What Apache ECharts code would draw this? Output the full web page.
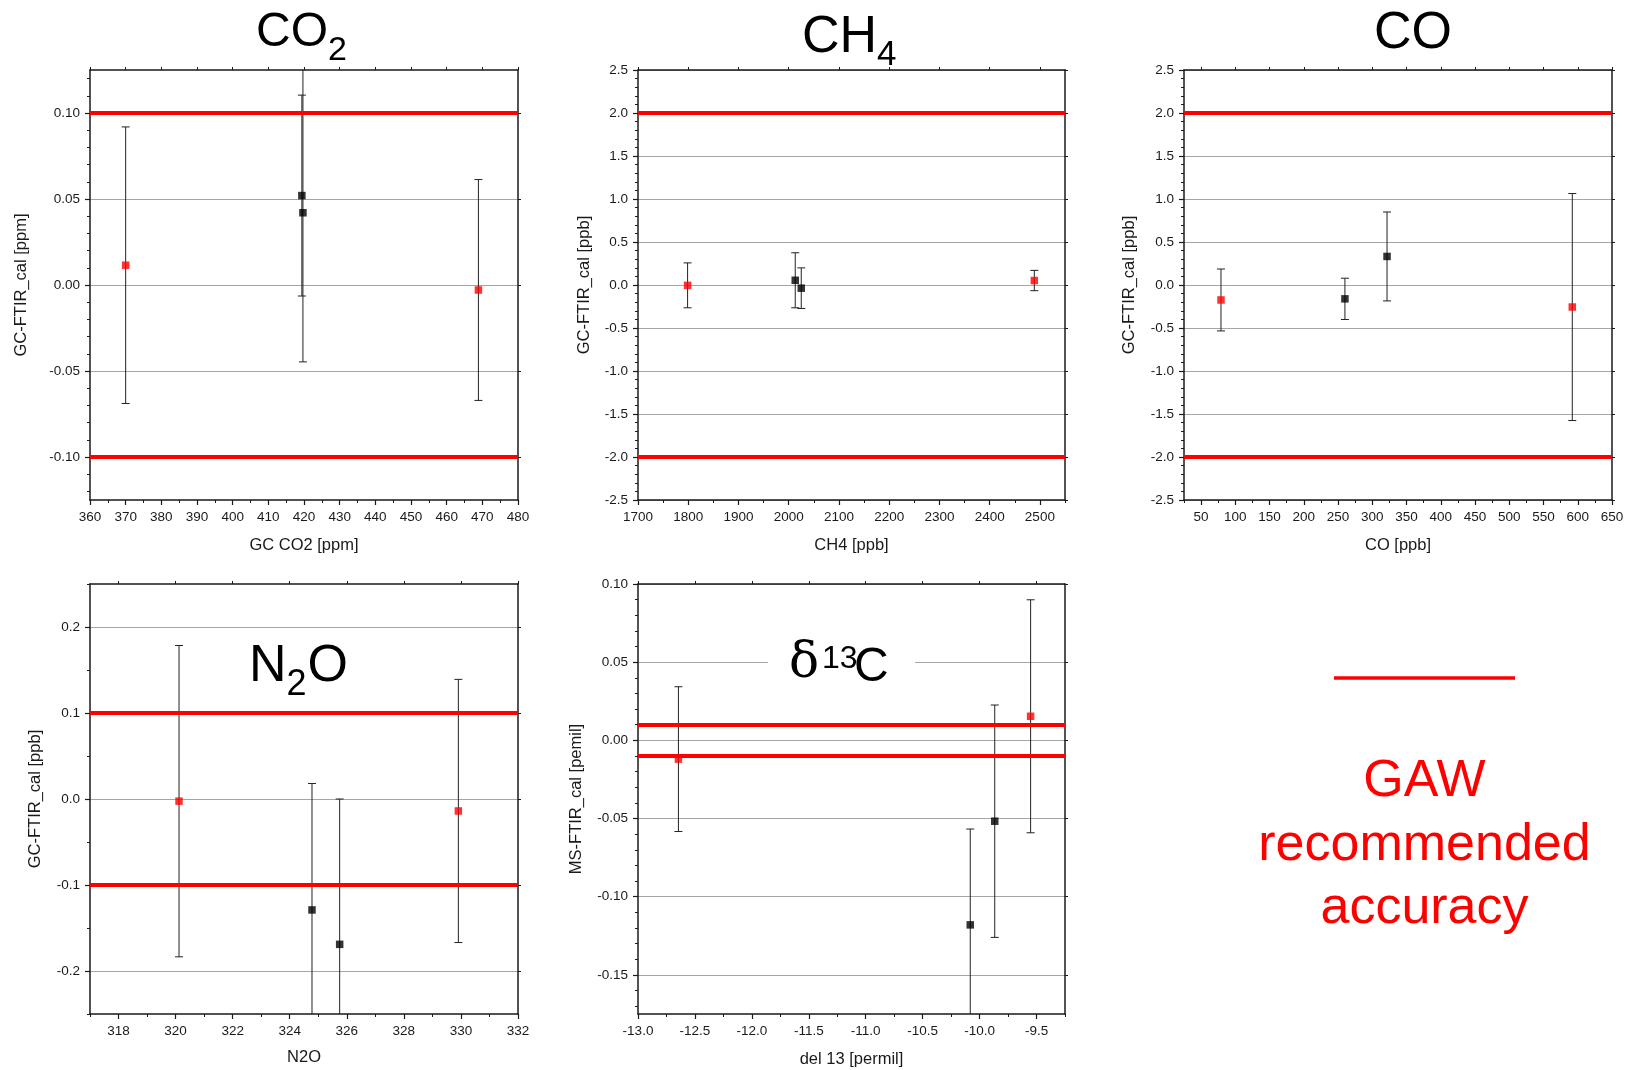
<!DOCTYPE html>
<html>
<head>
<meta charset="utf-8">
<script src="https://cdn.jsdelivr.net/npm/echarts@6.0.0/dist/echarts.min.js"></script>
<style>
html,body{margin:0;padding:0;background:#ffffff;}
#chart{width:1625px;height:1070px;}
</style>
</head>
<body>
<div id="chart"></div>
<script>
// ===================== DATA =====================
// each point: [x, difference, half error bar]
const co2Reference = [[370.0, 0.0115, 0.0804], [468.9, -0.0029, 0.0642]];
const co2Samples   = [[419.4, 0.052, 0.0584], [419.7, 0.042, 0.0867]];
const ch4Reference = [[1798.7, -0.004, 0.261], [2488.9, 0.052, 0.118]];
const ch4Samples   = [[2013, 0.055, 0.320], [2025, -0.037, 0.236]];
const coReference  = [[79, -0.174, 0.36], [592, -0.256, 1.32]];
const coSamples    = [[260, -0.161, 0.24], [321.5, 0.332, 0.517]];
const n2oReference = [[320.12, -0.0025, 0.181], [329.91, -0.0139, 0.153]];
const n2oSamples   = [[324.78, -0.129, 0.147], [325.75, -0.169, 0.169]];
const d13cReference = [[-12.645, -0.012, 0.0463], [-9.552, 0.0154, 0.0745]];
const d13cSamples   = [[-10.082, -0.118, 0.0613], [-9.867, -0.0517, 0.0743]];

// GAW recommended accuracy (+/-)
const co2Limit = 0.1;
const ch4Limit = 2.0;
const coLimit = 2.0;
const n2oLimit = 0.1;
const d13cLimit = 0.01;

// tick labels
const co2XTicks = [360, 370, 380, 390, 400, 410, 420, 430, 440, 450, 460, 470, 480];
const co2YTicks = [-0.10, -0.05, 0.00, 0.05, 0.10];
const ch4XTicks = [1700, 1800, 1900, 2000, 2100, 2200, 2300, 2400, 2500];
const ch4YTicks = [-2.5, -2.0, -1.5, -1.0, -0.5, 0.0, 0.5, 1.0, 1.5, 2.0, 2.5];
const coXTicks  = [50, 100, 150, 200, 250, 300, 350, 400, 450, 500, 550, 600, 650];
const coYTicks  = [-2.5, -2.0, -1.5, -1.0, -0.5, 0.0, 0.5, 1.0, 1.5, 2.0, 2.5];
const n2oXTicks = [318, 320, 322, 324, 326, 328, 330, 332];
const n2oYTicks = [-0.2, -0.1, 0.0, 0.1, 0.2];
const d13cXTicks = [-13.0, -12.5, -12.0, -11.5, -11.0, -10.5, -10.0, -9.5];
const d13cYTicks = [-0.15, -0.10, -0.05, 0.00, 0.05, 0.10];

// texts
const xNames = ['GC CO2 [ppm]', 'CH4 [ppb]', 'CO [ppb]', 'N2O', 'del 13 [permil]'];
const yNames = ['GC-FTIR_cal [ppm]', 'GC-FTIR_cal [ppb]', 'GC-FTIR_cal [ppb]', 'GC-FTIR_cal [ppb]', 'MS-FTIR_cal [pemil]'];
const legendLines = ['GAW', 'recommended', 'accuracy'];

// ===================== STYLE / LAYOUT =====================
const FONT = '"Liberation Sans", Arial, Helvetica, sans-serif';
const SERIF = '"DejaVu Serif", "Liberation Serif", "Times New Roman", serif';
const TXT = '#1a1a1a';
const AX = '#1a1a1a';
const GRIDC = '#a6a6a6';
const RED = '#ff0000';

function minorTicks(min, max, step) {
  const out = [];
  const start = Math.ceil(min / step - 1e-9);
  const end = Math.floor(max / step + 1e-9);
  for (let k = start; k <= end; k++) out.push(Math.round(k * step * 1e6) / 1e6);
  return out;
}

const panels = [
  {grid: {left: 90, top: 70, width: 428, height: 430}, xMin: 360, xMax: 480, xTicks: co2XTicks, xMinor: 5, xDec: 0,
   yMin: -0.125, yMax: 0.125, yTicks: co2YTicks, yMinor: 0.01, yDec: 2, xGap: 37, yGap: 60,
   limit: co2Limit, ref: co2Reference, smp: co2Samples},
  {grid: {left: 638, top: 70, width: 427, height: 430}, xMin: 1700, xMax: 2550, xTicks: ch4XTicks, xMinor: 50, xDec: 0,
   yMin: -2.5, yMax: 2.5, yTicks: ch4YTicks, yMinor: 0.1, yDec: 1, xGap: 37, yGap: 45,
   limit: ch4Limit, ref: ch4Reference, smp: ch4Samples},
  {grid: {left: 1184, top: 70, width: 428, height: 430}, xMin: 25, xMax: 650, xTicks: coXTicks, xMinor: 25, xDec: 0,
   yMin: -2.5, yMax: 2.5, yTicks: coYTicks, yMinor: 0.1, yDec: 1, xGap: 37, yGap: 46,
   limit: coLimit, ref: coReference, smp: coSamples},
  {grid: {left: 90, top: 584, width: 428, height: 430}, xMin: 317, xMax: 332, xTicks: n2oXTicks, xMinor: 1, xDec: 0,
   yMin: -0.25, yMax: 0.25, yTicks: n2oYTicks, yMinor: 0.05, yDec: 1, xGap: 35, yGap: 46,
   limit: n2oLimit, ref: n2oReference, smp: n2oSamples},
  {grid: {left: 638, top: 584, width: 427, height: 430}, xMin: -13, xMax: -9.25, xTicks: d13cXTicks, xMinor: 0.25, xDec: 1,
   yMin: -0.175, yMax: 0.10, yTicks: d13cYTicks, yMinor: 0.01, yDec: 2, xGap: 37, yGap: 53,
   limit: d13cLimit, ref: d13cReference, smp: d13cSamples}
];

const grids = [], xAxes = [], yAxes = [], series = [];

panels.forEach(function (p, i) {
  grids.push(Object.assign({containLabel: false, outerBoundsMode: 'none'}, p.grid));
  const lineStyle = {color: AX, width: 1.5};
  const xi = xAxes.length;
  xAxes.push({
    gridIndex: i, type: 'value', position: 'bottom', min: p.xMin, max: p.xMax,
    name: xNames[i], nameLocation: 'middle', nameGap: p.xGap,
    nameTextStyle: {fontSize: 16.5, color: TXT, fontFamily: FONT},
    axisLine: {show: true, onZero: false, lineStyle: lineStyle},
    axisTick: {show: true, inside: false, length: 5, customValues: p.xTicks, lineStyle: {color: AX, width: 1.2}},
    axisLabel: {show: true, customValues: p.xTicks, margin: 10, fontSize: 13.5, color: TXT, fontFamily: FONT,
      formatter: function (v) { return (+v).toFixed(p.xDec); }},
    splitLine: {show: false}
  });
  xAxes.push({
    gridIndex: i, type: 'value', position: 'bottom', min: p.xMin, max: p.xMax,
    axisLine: {show: false, onZero: false},
    axisTick: {show: true, inside: false, length: 3, customValues: minorTicks(p.xMin, p.xMax, p.xMinor), lineStyle: {color: AX, width: 1}},
    axisLabel: {show: false}, splitLine: {show: false}
  });
  xAxes.push({
    gridIndex: i, type: 'value', position: 'top', min: p.xMin, max: p.xMax,
    axisLine: {show: true, onZero: false, lineStyle: lineStyle},
    axisTick: {show: true, inside: false, length: 3, customValues: p.xTicks, lineStyle: {color: AX, width: 1}},
    axisLabel: {show: false}, splitLine: {show: false}
  });
  const yi = yAxes.length;
  yAxes.push({
    gridIndex: i, type: 'value', position: 'left', min: p.yMin, max: p.yMax,
    name: yNames[i], nameLocation: 'middle', nameGap: p.yGap,
    nameTextStyle: {fontSize: 16.5, color: TXT, fontFamily: FONT},
    axisLine: {show: true, onZero: false, lineStyle: lineStyle},
    axisTick: {show: true, inside: false, length: 5, customValues: p.yTicks, lineStyle: {color: AX, width: 1.2}},
    axisLabel: {show: true, customValues: p.yTicks, margin: 10, fontSize: 13.5, color: TXT, fontFamily: FONT,
      formatter: function (v) { return (+v).toFixed(p.yDec); }},
    splitLine: {show: true, lineStyle: {color: GRIDC, width: 1.2}}
  });
  yAxes.push({
    gridIndex: i, type: 'value', position: 'left', min: p.yMin, max: p.yMax,
    axisLine: {show: false, onZero: false},
    axisTick: {show: true, inside: false, length: 3, customValues: minorTicks(p.yMin, p.yMax, p.yMinor), lineStyle: {color: AX, width: 1}},
    axisLabel: {show: false}, splitLine: {show: false}
  });
  yAxes.push({
    gridIndex: i, type: 'value', position: 'right', min: p.yMin, max: p.yMax,
    axisLine: {show: true, onZero: false, lineStyle: lineStyle},
    axisTick: {show: true, inside: false, length: 3, customValues: p.yTicks, lineStyle: {color: AX, width: 1}},
    axisLabel: {show: false}, splitLine: {show: false}
  });

  // error bars
  series.push({
    type: 'custom', xAxisIndex: xi, yAxisIndex: yi, clip: true, z: 2, silent: true,
    data: p.ref.concat(p.smp),
    encode: {x: 0, y: 1},
    renderItem: function (params, api) {
      const x = api.value(0), y = api.value(1), e = api.value(2);
      const t = api.coord([x, y + e]);
      const b = api.coord([x, y - e]);
      const cap = 4;
      const st = {stroke: '#222', lineWidth: 1};
      return {type: 'group', children: [
        {type: 'line', shape: {x1: t[0], y1: t[1], x2: b[0], y2: b[1]}, style: st},
        {type: 'line', shape: {x1: t[0] - cap, y1: t[1], x2: t[0] + cap, y2: t[1]}, style: st},
        {type: 'line', shape: {x1: b[0] - cap, y1: b[1], x2: b[0] + cap, y2: b[1]}, style: st}
      ]};
    }
  });
  // GAW accuracy lines
  series.push({
    type: 'line', xAxisIndex: xi, yAxisIndex: yi, data: [], z: 3, silent: true,
    markLine: {
      silent: true, symbol: 'none', animation: false,
      label: {show: false},
      lineStyle: {color: RED, width: 4, type: 'solid'},
      emphasis: {disabled: true},
      data: [{yAxis: p.limit}, {yAxis: -p.limit}]
    }
  });
  // points
  series.push({
    type: 'scatter', xAxisIndex: xi, yAxisIndex: yi, z: 4, symbol: 'rect', symbolSize: 7.5,
    itemStyle: {color: RED}, data: p.ref.map(function (d) { return [d[0], d[1]]; })
  });
  series.push({
    type: 'scatter', xAxisIndex: xi, yAxisIndex: yi, z: 4, symbol: 'rect', symbolSize: 7.5,
    itemStyle: {color: '#000000'}, data: p.smp.map(function (d) { return [d[0], d[1]]; })
  });
});

function txt(x, y, text, size, family, color, align) {
  return {type: 'text', x: x, y: y, z: 60, silent: true,
    style: {text: text, font: size + 'px ' + family, fill: color || '#000', align: align || 'left', verticalAlign: 'middle'}};
}

const graphics = [
  // panel titles
  txt(256, 33.1, 'CO', 48, FONT), txt(328, 50.2, '2', 34, FONT),
  txt(802, 37.5, 'CH', 52, FONT), txt(877, 55.1, '4', 35, FONT),
  txt(1413, 33.9, 'CO', 52, FONT, '#000', 'center'),
  txt(249, 666.6, 'N', 52, FONT), txt(286.5, 684.8, '2', 36, FONT), txt(307.5, 666.6, 'O', 52, FONT),
  {type: 'rect', z: 50, silent: true, shape: {x: 768, y: 640, width: 147, height: 48}, style: {fill: '#ffffff'}},
  txt(789, 664.5, '\u03b4', 50, SERIF), txt(822, 659.4, '13', 32, FONT), txt(854, 667.4, 'C', 48, FONT),
  // legend
  {type: 'line', z: 60, silent: true, shape: {x1: 1334, y1: 678, x2: 1515, y2: 678}, style: {stroke: RED, lineWidth: 3.5}},
  txt(1424.5, 781.2, legendLines[0], 52, FONT, RED, 'center'),
  txt(1424.5, 845.6, legendLines[1], 52, FONT, RED, 'center'),
  txt(1424.5, 908.9, legendLines[2], 52, FONT, RED, 'center')
];

const chart = echarts.init(document.getElementById('chart'), null, {renderer: 'canvas'});
chart.setOption({
  backgroundColor: '#ffffff',
  animation: false,
  textStyle: {fontFamily: FONT},
  grid: grids,
  xAxis: xAxes,
  yAxis: yAxes,
  series: series,
  graphic: graphics
});
</script>
</body>
</html>
